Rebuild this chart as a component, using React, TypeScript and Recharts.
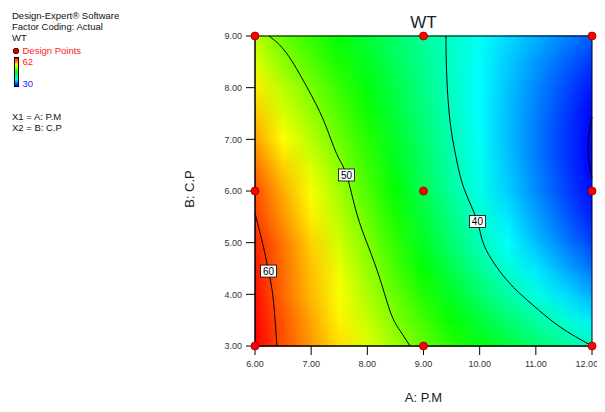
import React from 'react';
import { ComposedChart, XAxis, YAxis, Line, Scatter, ReferenceArea } from 'recharts';

// A: P.M grid columns and B: C.P grid rows
const pmValues = [6, 6.5, 7, 7.5, 8, 8.5, 9, 9.5, 10, 10.5, 11, 11.5, 12];
const cpValues = [3, 3.5, 4, 4.5, 5, 5.5, 6, 6.5, 7, 7.5, 8, 8.5, 9];

// WT read across each row (one array per C.P level)
const wtCp300 = [62.0, 59.5, 57.2, 55.0, 53.0, 51.0, 49.1, 47.3, 45.7, 44.1, 42.6, 41.3, 40.0];
const wtCp350 = [61.8, 59.3, 56.8, 54.4, 52.2, 50.0, 48.0, 46.1, 44.2, 42.6, 41.0, 39.4, 37.5];
const wtCp400 = [61.5, 58.7, 56.2, 53.8, 51.4, 49.1, 46.9, 44.8, 42.7, 40.8, 38.9, 37.1, 35.4];
const wtCp450 = [61.2, 58.6, 55.9, 53.3, 50.7, 48.2, 45.9, 43.6, 41.4, 39.3, 37.3, 35.4, 33.6];
const wtCp500 = [60.8, 58.3, 55.4, 52.6, 50.0, 47.4, 44.9, 42.5, 40.2, 38.0, 36.0, 34.0, 32.1];
const wtCp550 = [60.1, 57.3, 54.5, 51.8, 49.2, 46.7, 44.2, 41.9, 39.5, 37.3, 35.1, 33.0, 31.0];
const wtCp600 = [59.5, 56.6, 53.8, 51.1, 48.4, 45.9, 43.4, 41.0, 38.7, 36.5, 34.4, 32.3, 30.3];
const wtCp650 = [58.3, 55.4, 52.8, 50.3, 47.8, 45.3, 43.0, 40.6, 38.4, 36.2, 34.0, 31.9, 29.8];
const wtCp700 = [57.0, 54.0, 51.7, 49.4, 47.1, 44.8, 42.6, 40.4, 38.2, 36.0, 33.9, 31.8, 29.8];
const wtCp750 = [55.8, 52.8, 50.7, 48.5, 46.4, 44.2, 42.2, 40.1, 38.0, 36.0, 34.0, 32.0, 30.1];
const wtCp800 = [54.6, 51.8, 49.7, 47.7, 45.7, 43.7, 41.8, 39.9, 38.0, 36.1, 34.3, 32.5, 30.7];
const wtCp850 = [53.0, 50.4, 48.5, 46.7, 44.9, 43.2, 41.5, 39.8, 38.1, 36.4, 34.8, 33.2, 31.7];
const wtCp900 = [51.8, 49.2, 47.5, 45.8, 44.2, 42.7, 41.2, 39.7, 38.3, 36.9, 35.6, 34.3, 33.0];
const wtRows = [wtCp300, wtCp350, wtCp400, wtCp450, wtCp500, wtCp550, wtCp600, wtCp650, wtCp700, wtCp750, wtCp800, wtCp850, wtCp900];

// contour lines (A, B pairs)
const contour60 = [
  { x: 6.0, y: 5.57 }, { x: 6.15, y: 4.92 }, { x: 6.24, y: 4.45 }, { x: 6.32, y: 3.95 }, { x: 6.39, y: 3.0 },
];
const contour50 = [
  { x: 6.25, y: 9.0 }, { x: 6.56, y: 8.67 }, { x: 6.92, y: 8.02 }, { x: 7.22, y: 7.37 }, { x: 7.45, y: 6.73 },
  { x: 7.63, y: 6.31 }, { x: 7.81, y: 5.57 }, { x: 8.02, y: 4.92 }, { x: 8.23, y: 4.28 }, { x: 8.42, y: 3.63 },
  { x: 8.58, y: 3.3 }, { x: 8.76, y: 3.0 },
];
const contour40 = [
  { x: 9.4, y: 9.0 }, { x: 9.41, y: 8.34 }, { x: 9.47, y: 7.37 }, { x: 9.59, y: 6.6 }, { x: 9.73, y: 6.02 },
  { x: 9.96, y: 5.41 }, { x: 10.09, y: 4.92 }, { x: 10.48, y: 4.28 }, { x: 10.95, y: 3.79 }, { x: 11.43, y: 3.37 },
  { x: 12.0, y: 3.0 },
];
const contour30 = [
  { x: 12.0, y: 7.43 }, { x: 11.95, y: 7.15 }, { x: 11.93, y: 6.84 }, { x: 11.95, y: 6.53 }, { x: 12.0, y: 6.25 },
];
const contourLabels = [
  { x: 7.63, y: 6.31, label: '50' },
  { x: 9.96, y: 5.41, label: '40' },
  { x: 6.24, y: 4.45, label: '60' },
];
const designPoints = [
  { x: 6, y: 3 }, { x: 6, y: 6 }, { x: 6, y: 9 },
  { x: 9, y: 3 }, { x: 9, y: 6 }, { x: 9, y: 9 },
  { x: 12, y: 3 }, { x: 12, y: 6 }, { x: 12, y: 9 },
];
const xTicks = [6, 7, 8, 9, 10, 11, 12];
const yTicks = [3, 4, 5, 6, 7, 8, 9];
const wtMin = 30;
const wtMax = 62;

function colorFor(v: number): string {
  let t = (v - wtMin) / (wtMax - wtMin);
  t = Math.max(0, Math.min(1, t));
  let r = 0, g = 0, b = 0;
  if (t < 0.25) { const s = t / 0.25; r = 0; g = 255 * s; b = 255; }
  else if (t < 0.5) { const s = (t - 0.25) / 0.25; r = 0; g = 255; b = 255 * (1 - s); }
  else if (t < 0.75) { const s = (t - 0.5) / 0.25; r = 255 * s; g = 255; b = 0; }
  else { const s = (t - 0.75) / 0.25; r = 255; g = 255 * (1 - s); b = 0; }
  return `rgb(${Math.round(r)},${Math.round(g)},${Math.round(b)})`;
}

const font = 'Liberation Sans, Arial, Helvetica, sans-serif';

const LabelBox = (props: any) => {
  const { cx, cy, payload } = props;
  if (cx == null || cy == null) return null;
  return (
    <g>
      <rect x={cx - 8} y={cy - 6} width={16} height={12} fill="#fff" stroke="#000" strokeWidth={0.8} />
      <text x={cx} y={cy + 3.6} textAnchor="middle" fontSize={10} fontFamily={font} fill="#000">{payload.label}</text>
    </g>
  );
};

const DesignDot = (props: any) => {
  const { cx, cy } = props;
  if (cx == null || cy == null) return null;
  return <circle cx={cx} cy={cy} r={4} fill="#ff0000" stroke="#900000" strokeWidth={0.8} />;
};

export default function App() {
  const bands = [];
  for (let i = 0; i < cpValues.length - 1; i++) {
    bands.push(
      <ReferenceArea
        key={'band' + i}
        x1={pmValues[0]}
        x2={pmValues[pmValues.length - 1]}
        y1={cpValues[i]}
        y2={cpValues[i + 1]}
        shape={(p: any) => (
          <g>
            <rect x={p.x} y={p.y - 0.5} width={p.width} height={p.height + 1} fill={`url(#row${i})`} />
            <rect x={p.x} y={p.y - 0.5} width={p.width} height={p.height + 1} fill={`url(#row${i + 1})`} mask="url(#fadeMask)" />
          </g>
        )}
      />
    );
  }
  const xSpan = pmValues[pmValues.length - 1] - pmValues[0];
  return (
    <div style={{ position: 'relative', width: 589, height: 396, fontFamily: font }}>
      <ComposedChart width={589} height={396} margin={{ top: 28, right: 5, bottom: 28, left: 187 }}>
        <defs>
          {wtRows.map((row, i) => (
            <linearGradient key={i} id={`row${i}`} x1="0" y1="0" x2="1" y2="0">
              {row.map((v, j) => (
                <stop key={j} offset={(pmValues[j] - pmValues[0]) / xSpan} stopColor={colorFor(v)} />
              ))}
            </linearGradient>
          ))}
          <linearGradient id="fadeGrad" x1="0" y1="0" x2="0" y2="1">
            <stop offset="0" stopColor="#fff" />
            <stop offset="1" stopColor="#000" />
          </linearGradient>
          <mask id="fadeMask" maskContentUnits="objectBoundingBox">
            <rect x="0" y="0" width="1" height="1" fill="url(#fadeGrad)" />
          </mask>
        </defs>
        <XAxis
          type="number"
          dataKey="x"
          domain={[6, 12]}
          ticks={xTicks}
          tickFormatter={(v: number) => v.toFixed(2)}
          tickSize={9}
          tickMargin={6}
          height={30}
          stroke="#000"
          tick={{ fontSize: 9, fill: '#333', fontFamily: font }}
        />
        <YAxis
          type="number"
          dataKey="y"
          domain={[3, 9]}
          ticks={yTicks}
          tickFormatter={(v: number) => v.toFixed(2)}
          tickSize={9}
          tickMargin={4}
          width={60}
          stroke="#000"
          tick={{ fontSize: 9, fill: '#333', fontFamily: font }}
        />
        {bands}
        <ReferenceArea x1={6} x2={12} y1={3} y2={9} fill="none" stroke="#000" strokeWidth={1} fillOpacity={0} />
        <Line data={contour60} dataKey="y" type="natural" stroke="#000" strokeWidth={1} dot={false} isAnimationActive={false} />
        <Line data={contour50} dataKey="y" type="natural" stroke="#000" strokeWidth={1} dot={false} isAnimationActive={false} />
        <Line data={contour40} dataKey="y" type="natural" stroke="#000" strokeWidth={1} dot={false} isAnimationActive={false} />
        <Line data={contour30} dataKey="y" type="natural" stroke="#000" strokeWidth={1} dot={false} isAnimationActive={false} />
        <Scatter data={contourLabels} shape={LabelBox} isAnimationActive={false} />
        <Scatter data={designPoints} shape={DesignDot} isAnimationActive={false} />
      </ComposedChart>

      <div style={{ position: 'absolute', left: 415.5 - 60, top: 6, width: 120, textAlign: 'center', fontSize: 17, color: '#222', lineHeight: '18px' }}>WT</div>
      <div style={{ position: 'absolute', left: 415.5 - 60, top: 383, width: 120, textAlign: 'center', fontSize: 13, color: '#222', lineHeight: '14px' }}>A: P.M</div>
      <div style={{ position: 'absolute', left: 182 - 40, top: 181 - 7, width: 80, height: 14, textAlign: 'center', fontSize: 13, color: '#222', lineHeight: '14px', transform: 'rotate(-90deg)' }}>B: C.P</div>

      <div style={{ position: 'absolute', left: 4, top: 2, fontSize: 9.5, lineHeight: '11px', color: '#111', whiteSpace: 'nowrap' }}>
        <div>Design-Expert® Software</div>
        <div>Factor Coding: Actual</div>
        <div>WT</div>
      </div>
      <div style={{ position: 'absolute', left: 5, top: 39.5, width: 4, height: 4, borderRadius: 2, background: '#cc0000', border: '0.5px solid #600' }} />
      <div style={{ position: 'absolute', left: 14.5, top: 36.5, fontSize: 9.5, lineHeight: '11px', color: '#ff2020', whiteSpace: 'nowrap' }}>Design Points</div>
      <div style={{ position: 'absolute', left: 5.5, top: 49, width: 3, height: 28, border: '1px solid #000', background: 'linear-gradient(to bottom, #ff0000, #ffff00, #00ff00, #00ffff, #0000ff)' }} />
      <div style={{ position: 'absolute', left: 14.5, top: 48, fontSize: 9.5, lineHeight: '11px', color: '#ff2020' }}>62</div>
      <div style={{ position: 'absolute', left: 14.5, top: 70, fontSize: 9.5, lineHeight: '11px', color: '#2020ff' }}>30</div>
      <div style={{ position: 'absolute', left: 4, top: 103, fontSize: 9.5, lineHeight: '11px', color: '#111', whiteSpace: 'nowrap' }}>
        <div>X1 = A: P.M</div>
        <div>X2 = B: C.P</div>
      </div>
    </div>
  );
}
